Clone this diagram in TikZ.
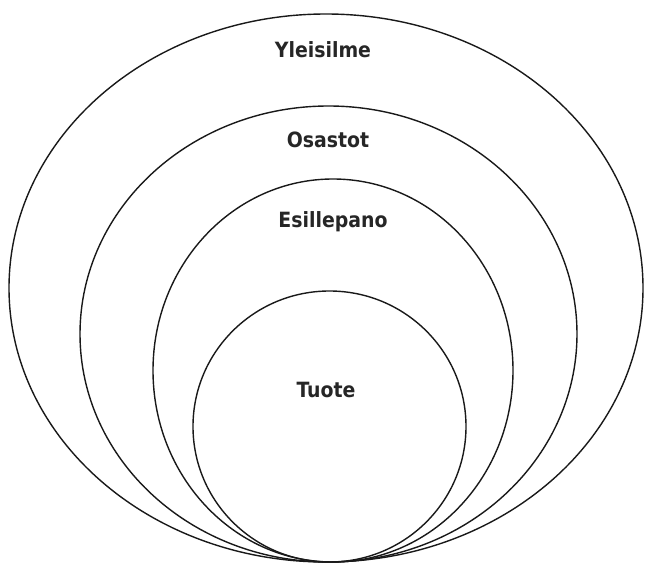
\documentclass[tikz,border=0pt]{standalone}
\usepackage{fontspec}
\newfontfamily\lblfont{DejaVu Sans Condensed}
\begin{document}
\begin{tikzpicture}[x=1pt, y=-1pt,
    ring/.style={draw=black!90, line width=1.4pt},
    lbl/.style={font=\lblfont\bfseries\fontsize{21}{25}\selectfont, text=black!85, inner sep=0pt, anchor=base}
]
    \useasboundingbox (0,0) rectangle (646,564);

    % Rings
    \draw[ring] (326,288) ellipse [x radius=317, y radius=274];
    \draw[ring] (328.5,334) ellipse [x radius=248.5, y radius=228];
    \draw[ring] (333,370.5) ellipse [x radius=180, y radius=191.5];
    \draw[ring] (329.5,426.5) ellipse [x radius=136.5, y radius=135.5];

    % Labels
    \node[lbl] (yleisilme) at (323,58) {Yleisilme};
    \node[lbl] (osastot) at (328,148) {Osastot};
    \node[lbl] (esillepano) at (333,228) {Esillepano};
    \node[lbl] (tuote) at (326,397) {Tuote};
\end{tikzpicture}
\end{document}
